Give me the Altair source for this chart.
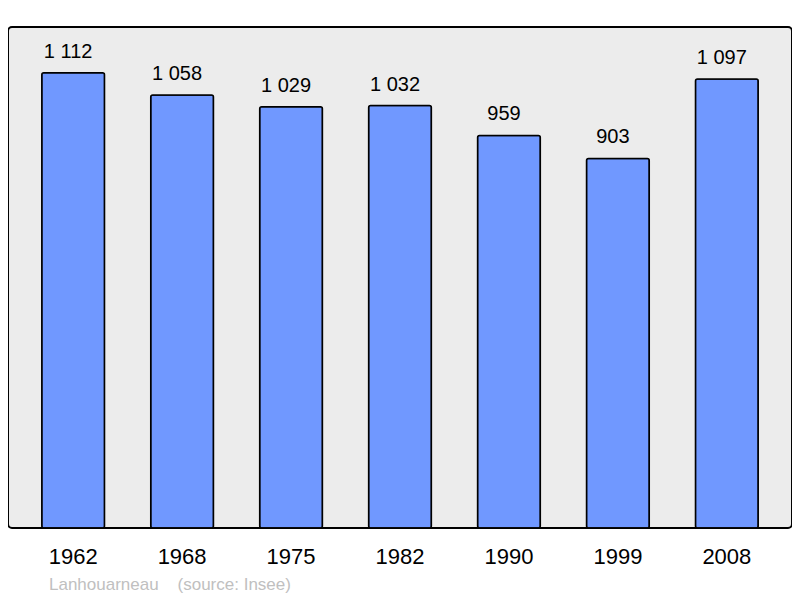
import altair as alt
import pandas as pd

years = ["1962", "1968", "1975", "1982", "1990", "1999", "2008"]
population = [1112, 1058, 1029, 1032, 959, 903, 1097]
labels = ["1 112", "1 058", "1 029", "1 032", "959", "903", "1 097"]
source_note = ["Lanhouarneau\u00a0\u00a0\u00a0\u00a0(source: Insee)"]

df = pd.DataFrame({"year": years, "pop": population, "label": labels})
note_df = pd.DataFrame({"note": source_note})

FONT = "Liberation Sans"

x = alt.X("year:N", sort=years, title=None,
          scale=alt.Scale(paddingInner=0.424, paddingOuter=0.31),
          axis=alt.Axis(labelAngle=0, ticks=False, domain=False, labelFontSize=22,
                        labelFont=FONT, labelColor="#000", labelPadding=18, labelBaseline="top"))
y = alt.Y("pop:Q", title=None, scale=alt.Scale(domain=[0, 1224], nice=False, zero=True),
          axis=None)

bars = alt.Chart(df).mark_bar(color="#7098ff", stroke="#000", strokeWidth=1.5,
                              cornerRadius=2).encode(x=x, y=y)
text = alt.Chart(df).mark_text(fontSize=20, font=FONT, color="#000", baseline="alphabetic",
                               dx=-5, dy=-15).encode(x=x, y=y, text="label:N")
note = alt.Chart(note_df).mark_text(fontSize=17, font=FONT, color="#c0c0c0", align="left",
                                    baseline="middle").encode(
    x=alt.value(41), y=alt.value(558), text="note:N")

chart = alt.layer(bars, text, note).properties(
    width=784, height=501,
    autosize=alt.AutoSizeParams(type="none"),
    padding={"left": 0, "top": 19, "right": 0, "bottom": 67},
).configure_view(
    fill="#ececec", stroke="#000", strokeWidth=2, cornerRadius=4
)

chart.save("out.html", embed_options={"renderer": "svg", "actions": False})
